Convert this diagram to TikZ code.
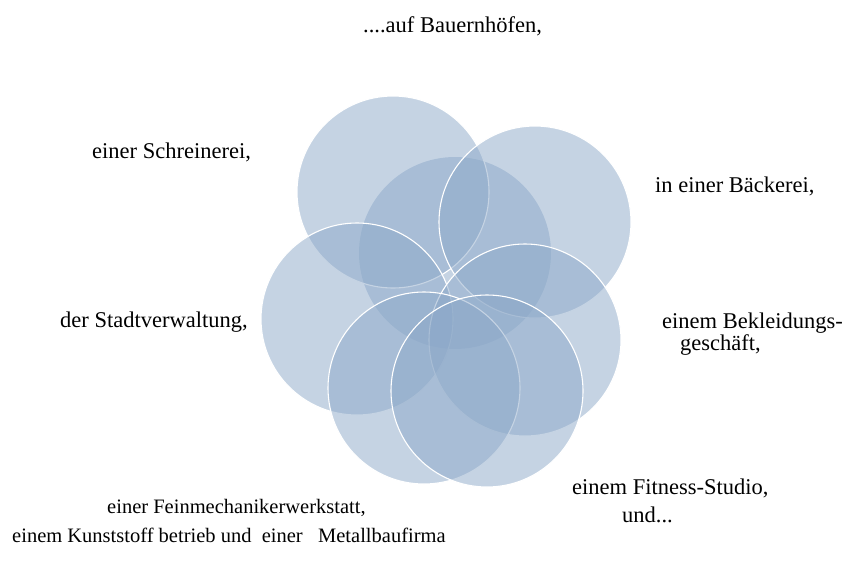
\documentclass[tikz,border=0pt]{standalone}
\usepackage{fontspec}
\setmainfont{Liberation Serif}
\usepackage{tikz}
\usetikzlibrary{positioning}

\definecolor{ring}{RGB}{140,168,200}
\tikzset{
  disc/.style={circle,fill=ring,fill opacity=0.5,draw=white,line width=1.1pt,minimum size=192pt,inner sep=0pt},
  word/.style={anchor=base west,inner sep=0pt,font=\fontsize{22.5}{27}\selectfont},
  small/.style={word,font=\fontsize{20.5}{25}\selectfont}
}

\begin{document}
\begin{tikzpicture}[x=1pt,y=-1pt]
	  \useasboundingbox (0,0) rectangle (850,584);
	  % circles
	  \node (mid) [disc,draw=none] at (455,253) {};
	  \node (farm) [disc] at (393,192) {};
	  \node (bake) [disc] at (535,222) {};
	  \node (town) [disc] at (357,319) {};
	  \node (shop) [disc] at (525,340) {};
	  \node (fine) [disc] at (424,388) {};
	  \node (gym) [disc] at (487,391) {};
	  % labels
	  \node (Lfarm) [word] at (363,32) {....auf Bauernhöfen,};
	  \node (Lwood) [word] at (92,158) {einer Schreinerei,};
	  \node (Lbake) [word] at (655,192) {in einer Bäckerei,};
	  \node (Ltown) [word] at (60,327) {der Stadtverwaltung,};
	  \node (Lshop) [word] at (662,328) {einem Bekleidungs-};
	  \node (Lshop2) [word] at (680,350) {geschäft,};
	  \node (Lgym) [word] at (572,494) {einem Fitness-Studio,};
	  \node (Lgym2) [word] at (622,522) {und...};
	  \node (Lfine) [small] at (107,513) {einer Feinmechanikerwerkstatt,};
	  \node (Lfine2) [small] at (12,542) {einem Kunststoff betrieb und\ \ einer\ \ \ Metallbaufirma};
	\end{tikzpicture}
\end{document}
